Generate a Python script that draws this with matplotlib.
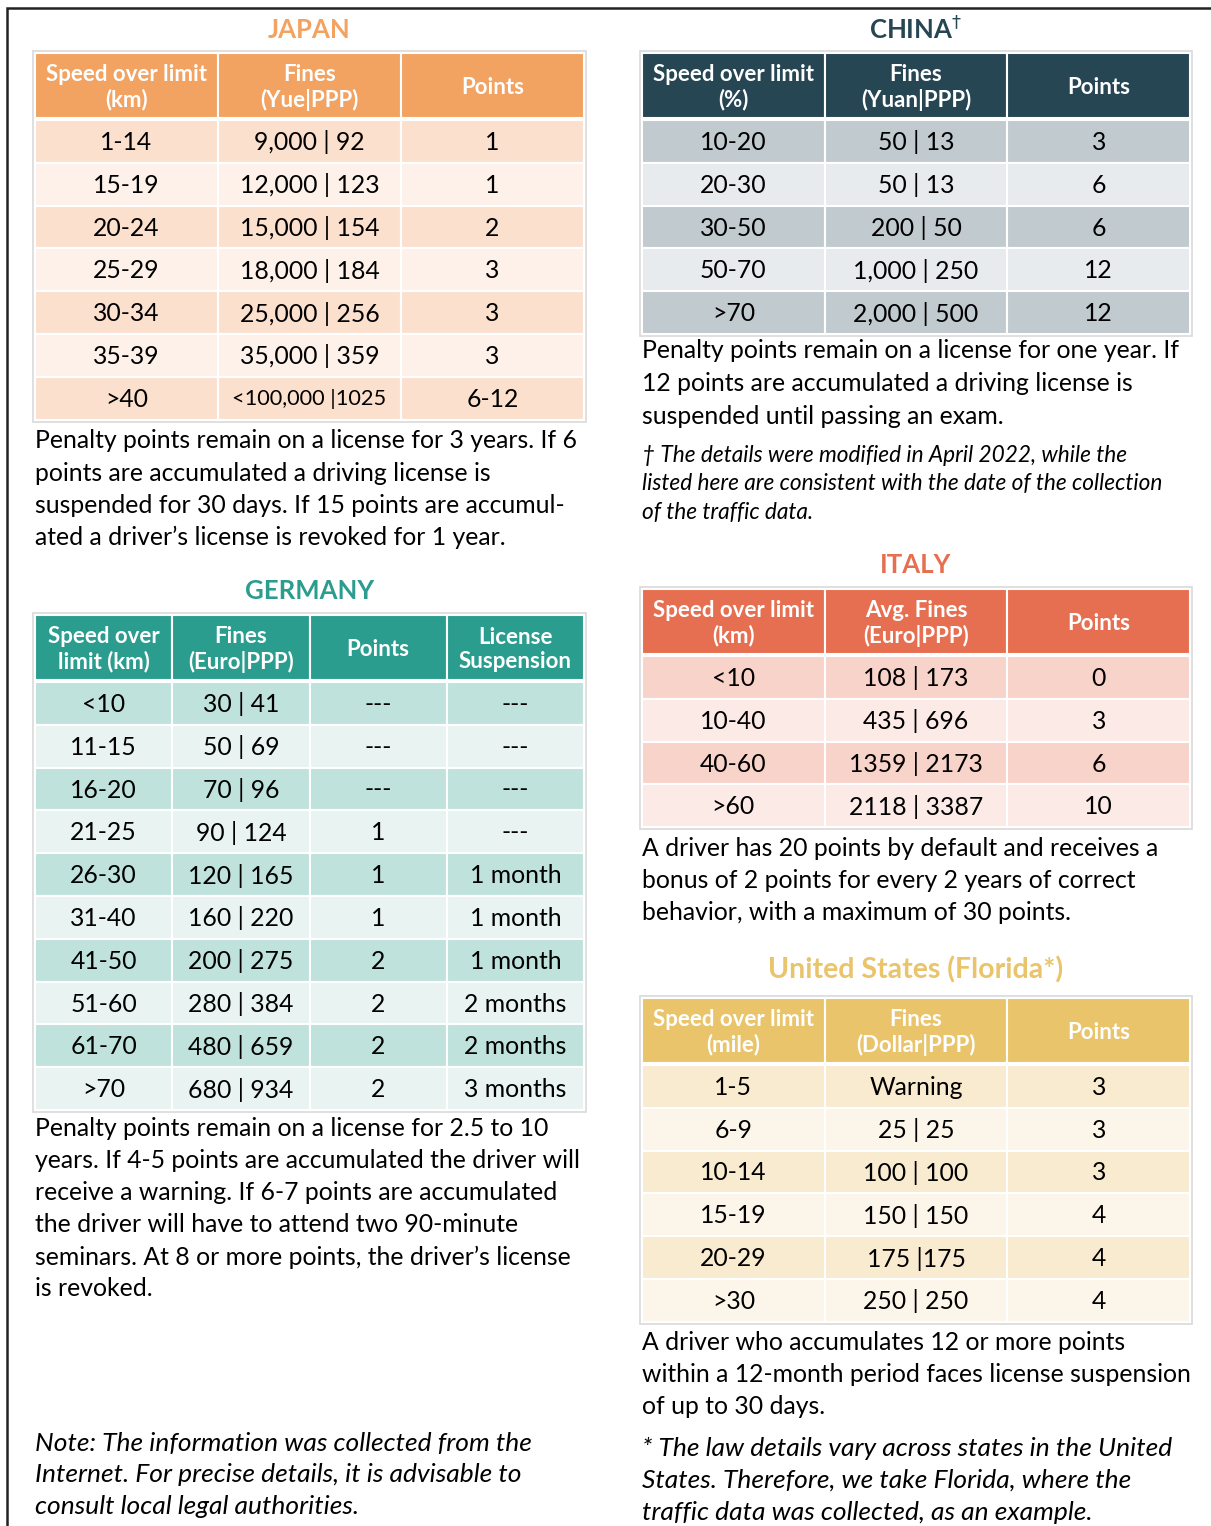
import matplotlib
matplotlib.use("Agg")
import matplotlib.pyplot as plt
from matplotlib.patches import Rectangle

FONT = "Lato"
plt.rcParams['font.family'] = [FONT, 'DejaVu Sans']

# ---------------- data ----------------
japan_header = ["Speed over limit\n(km)", "Fines\n(Yue|PPP)", "Points"]
japan_speed = ["1-14", "15-19", "20-24", "25-29", "30-34", "35-39", ">40"]
japan_fines = ["9,000 | 92", "12,000 | 123", "15,000 | 154", "18,000 | 184",
               "25,000 | 256", "35,000 | 359", "<100,000 |1025"]
japan_points = ["1", "1", "2", "3", "3", "3", "6-12"]
japan_note = ["Penalty points remain on a license for 3 years. If 6",
              "points are accumulated a driving license is",
              "suspended for 30 days. If 15 points are accumul-",
              "ated a driver\u2019s license is revoked for 1 year."]

china_header = ["Speed over limit\n(%)", "Fines\n(Yuan|PPP)", "Points"]
china_speed = ["10-20", "20-30", "30-50", "50-70", ">70"]
china_fines = ["50 | 13", "50 | 13", "200 | 50", "1,000 | 250", "2,000 | 500"]
china_points = ["3", "6", "6", "12", "12"]
china_note = ["Penalty points remain on a license for one year. If",
              "12 points are accumulated a driving license is",
              "suspended until passing an exam."]
china_foot = ["\u2020 The details were modified in April 2022, while the",
              "listed here are consistent with the date of the collection",
              "of the traffic data."]

germany_header = ["Speed over\nlimit (km)", "Fines\n(Euro|PPP)", "Points", "License\nSuspension"]
germany_speed = ["<10", "11-15", "16-20", "21-25", "26-30", "31-40", "41-50", "51-60", "61-70", ">70"]
germany_fines = ["30 | 41", "50 | 69", "70 | 96", "90 | 124", "120 | 165", "160 | 220",
                 "200 | 275", "280 | 384", "480 | 659", "680 | 934"]
germany_points = ["---", "---", "---", "1", "1", "1", "2", "2", "2", "2"]
germany_susp = ["---", "---", "---", "---", "1 month", "1 month", "1 month",
                "2 months", "2 months", "3 months"]
germany_note = ["Penalty points remain on a license for 2.5 to 10",
                "years. If 4-5 points are accumulated the driver will",
                "receive a warning. If 6-7 points are accumulated",
                "the driver will have to attend two 90-minute",
                "seminars. At 8 or more points, the driver\u2019s license",
                "is revoked."]

italy_header = ["Speed over limit\n(km)", "Avg. Fines\n(Euro|PPP)", "Points"]
italy_speed = ["<10", "10-40", "40-60", ">60"]
italy_fines = ["108 | 173", "435 | 696", "1359 | 2173", "2118 | 3387"]
italy_points = ["0", "3", "6", "10"]
italy_note = ["A driver has 20 points by default and receives a",
              "bonus of 2 points for every 2 years of correct",
              "behavior, with a maximum of 30 points."]

us_header = ["Speed over limit\n(mile)", "Fines\n(Dollar|PPP)", "Points"]
us_speed = ["1-5", "6-9", "10-14", "15-19", "20-29", ">30"]
us_fines = ["Warning", "25 | 25", "100 | 100", "150 | 150", "175 |175", "250 | 250"]
us_points = ["3", "3", "3", "4", "4", "4"]
us_note = ["A driver who accumulates 12 or more points",
           "within a 12-month period faces license suspension",
           "of up to 30 days."]
us_foot = ["* The law details vary across states in the United",
           "States. Therefore, we take Florida, where the",
           "traffic data was collected, as an example."]

general_note = ["Note: The information was collected from the",
                "Internet. For precise details, it is advisable to",
                "consult local legal authorities."]

# colours
C_JP = ("#F2A261", "#FCE0CE", "#FDF1EA")
C_CN = ("#264653", "#C1CACF", "#E8EBED")
C_DE = ("#2A9D8F", "#BFE2DD", "#E9F4F2")
C_IT = ("#E76F51", "#F8D3CA", "#FCEAE6")
C_US = ("#E9C46A", "#F9EBD0", "#FCF6EA")

W, H = 1211, 1526
fig = plt.figure(figsize=(W / 100, H / 100), dpi=100)
ax = fig.add_axes([0, 0, 1, 1])
ax.set_xlim(0, W)
ax.set_ylim(H, 0)
ax.axis("off")

BODY = 17.8
CELL = 17.8
HEAD = 16.0
TITLE = 18.5
ROW_H = 42.8
HEAD_H = 65


def draw_table(x0, x1, ytop, header, cols, colors, title, title_y, tfs=TITLE):
    ncol = len(header)
    cw = (x1 - x0) / ncol
    hc, dark, light = colors
    nrow = len(cols[0])
    ybot = ytop + HEAD_H + 2 + nrow * ROW_H
    ax.add_patch(Rectangle((x0 - 2, ytop - 2), x1 - x0 + 4, ybot - ytop + 4,
                           facecolor="none", edgecolor="#D9D9D9", lw=1.2))
    for j, h in enumerate(header):
        ax.add_patch(Rectangle((x0 + j * cw, ytop), cw, HEAD_H, facecolor=hc,
                               edgecolor="white", lw=1.5))
        ax.text(x0 + (j + 0.5) * cw, ytop + HEAD_H / 2 + 2, h, ha="center", va="center",
                color="white", fontsize=HEAD, fontweight="bold", linespacing=1.2)
    y = ytop + HEAD_H + 2
    for i in range(nrow):
        fc = dark if i % 2 == 0 else light
        for j in range(ncol):
            ax.add_patch(Rectangle((x0 + j * cw, y + i * ROW_H), cw, ROW_H, facecolor=fc,
                                   edgecolor="white", lw=1.5))
            txt = cols[j][i]
            fs = 15.7 if txt.startswith("<100") else CELL
            ax.text(x0 + (j + 0.5) * cw, y + (i + 0.5) * ROW_H + 1, txt, ha="center",
                    va="center", fontsize=fs, color="black")
    if title:
        ax.text((x0 + x1) / 2, title_y, title, ha="center", va="center", fontsize=tfs,
                fontweight="bold", color=hc)
    return ybot


def para(x, y0, lines, step, fs=BODY, style="normal"):
    for k, ln in enumerate(lines):
        ax.text(x, y0 + k * step, ln, ha="left", va="center", fontsize=fs,
                style=style, color="black")


# border
ax.plot([7, 7, W], [H, 8, 8], color="#222222", lw=1.8, solid_joinstyle="miter")

# Japan
draw_table(35, 584, 53, japan_header, [japan_speed, japan_fines, japan_points], C_JP, "JAPAN", 30)
para(35, 441, japan_note, 32.2)

# China
draw_table(642, 1190, 53, china_header, [china_speed, china_fines, china_points], C_CN, "", 28)
ax.text(915, 29, "CHINA$^{\u2020}$", ha="center", va="center", fontsize=TITLE,
        fontweight="bold", color=C_CN[0])
para(642, 351, china_note, 32.5)
para(642, 455, china_foot, 28.5, fs=16.3, style="italic")

# Germany
draw_table(35, 584, 615, germany_header,
           [germany_speed, germany_fines, germany_points, germany_susp], C_DE, "GERMANY", 591)
para(35, 1129, germany_note, 32.0)

# Italy
draw_table(642, 1190, 589, italy_header, [italy_speed, italy_fines, italy_points], C_IT, "ITALY", 565)
para(642, 848, italy_note, 32.0)

# US
draw_table(642, 1190, 998, us_header, [us_speed, us_fines, us_points], C_US,
           "United States (Florida*)", 970, tfs=20.5)
para(642, 1343, us_note, 32.0)
para(642, 1448, us_foot, 32.0, fs=19.0, style="italic")

para(35, 1443, general_note, 32.0, fs=19.0, style="italic")

fig.savefig("out.png", dpi=100)
